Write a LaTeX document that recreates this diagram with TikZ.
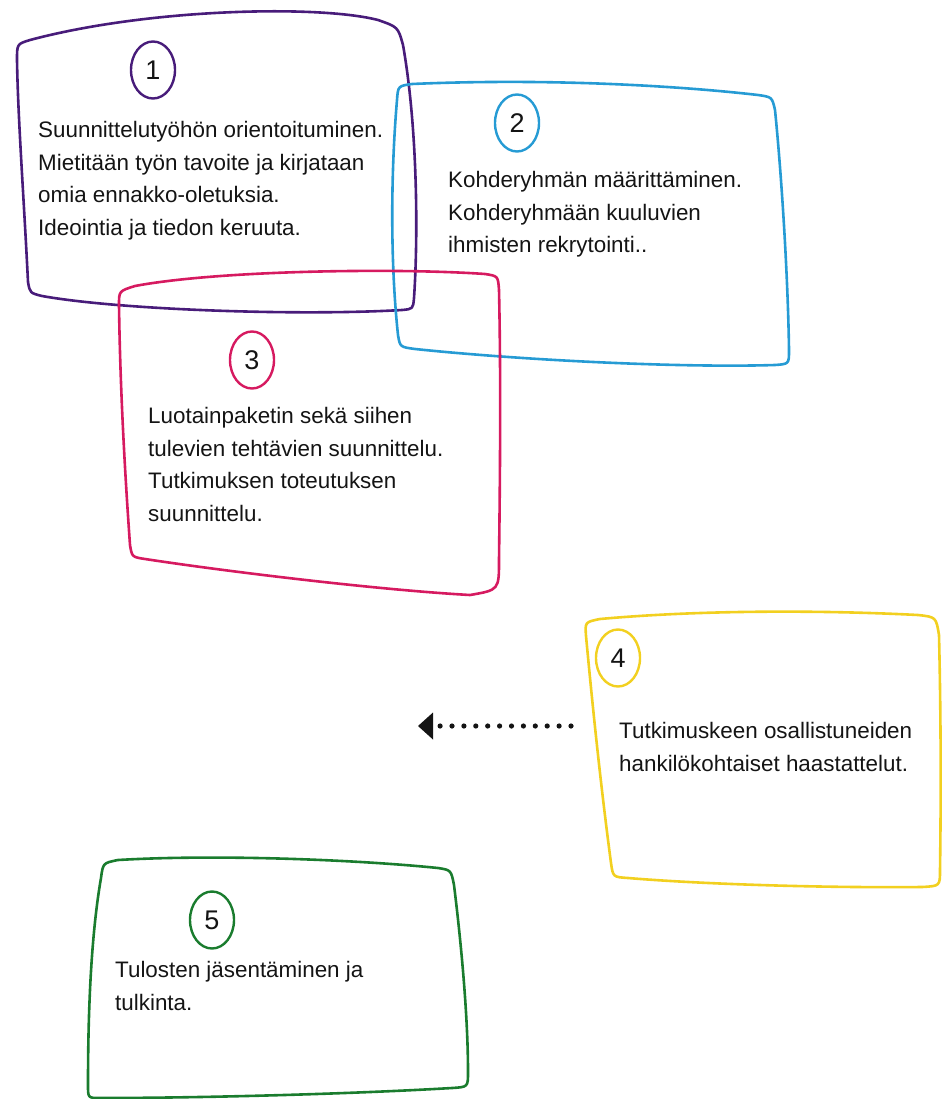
\documentclass[tikz,border=0pt]{standalone}
\usepackage{fontspec}
\setmainfont{Liberation Sans}
\usetikzlibrary{shapes.geometric,arrows.meta}
\definecolor{phaseone}{RGB}{72,28,122}
\definecolor{phasetwo}{RGB}{38,155,212}
\definecolor{phasethree}{RGB}{214,26,96}
\definecolor{phasefour}{RGB}{242,208,32}
\definecolor{phasefive}{RGB}{26,124,46}
\definecolor{inktext}{RGB}{20,20,20}
\begin{document}
\begin{tikzpicture}[x=1pt,y=-1pt,
				box/.style={line width=2.6pt,line join=round},
				num/.style={ellipse,draw,line width=2.4pt,minimum width=44pt,minimum height=57pt,inner sep=0pt,text=inktext,font=\fontsize{27}{27}\selectfont},
				txt/.style={anchor=north west,inner sep=0pt,align=left,text=inktext,font=\fontsize{22.4}{32.7}\selectfont},
				dotline/.style={inktext,line width=5.2pt,line cap=round,dash pattern=on 0pt off 11.9pt,-{Triangle[length=15pt,width=27pt,line width=0pt]}}]
\useasboundingbox (0,0) rectangle (942,1099);
% phase boxes
\draw[box,phaseone] (17,60) .. controls (17,44) .. (30,40)
	.. controls (150,8) and (320,5) .. (378,20) .. controls (398,27) .. (403,45)
	.. controls (418,130) and (418,240) .. (414,298) .. controls (413,309) .. (402,310)
	.. controls (300,316) and (120,310) .. (42,296) .. controls (30,293) .. (28,282)
	.. controls (24,200) and (18,120) .. (17,60) -- cycle;
\draw[box,phasetwo] (397,100) .. controls (398,86) .. (412,84)
	.. controls (550,78) and (680,86) .. (758,95) .. controls (772,97) .. (775,110)
	.. controls (782,180) and (788,280) .. (789,350) .. controls (789,364) .. (775,365)
	.. controls (680,368) and (520,360) .. (415,349) .. controls (400,347) .. (398,335)
	.. controls (390,260) and (391,170) .. (397,100) -- cycle;
\draw[box,phasethree] (119,305) .. controls (119,291) .. (135,286)
	.. controls (220,270) and (400,268) .. (485,274) .. controls (498,276) .. (499,290)
	.. controls (501,380) and (500,480) .. (499,560) .. controls (499,590) .. (470,595)
	.. controls (380,590) and (230,572) .. (145,559) .. controls (132,557) .. (130,545)
	.. controls (124,460) and (120,380) .. (119,305) -- cycle;
\draw[box,phasefour] (586,636) .. controls (585,622) .. (600,619)
	.. controls (700,610) and (820,610) .. (918,615) .. controls (936,617) .. (939,635)
	.. controls (941,720) and (941,800) .. (940,870) .. controls (940,886) .. (922,887)
	.. controls (820,888) and (700,884) .. (628,878) .. controls (613,877) .. (611,863)
	.. controls (600,780) and (592,700) .. (586,636) -- cycle;
\draw[box,phasefive] (101,878) .. controls (103,863) .. (118,860)
	.. controls (220,854) and (360,860) .. (438,868) .. controls (451,870) .. (454,885)
	.. controls (462,950) and (468,1020) .. (468,1072) .. controls (468,1087) .. (452,1088)
	.. controls (350,1094) and (200,1098) .. (100,1098) .. controls (88,1098) .. (88,1085)
	.. controls (88,1000) and (92,930) .. (101,878) -- cycle;
% numbers
\node[num,draw=phaseone] (n1) at (153,70) {1};
\node[num,draw=phasetwo] (n2) at (517,123) {2};
\node[num,draw=phasethree] (n3) at (252,360) {3};
\node[num,draw=phasefour] (n4) at (618,658) {4};
\node[num,draw=phasefive] (n5) at (212,920) {5};
% texts
\node[txt] (t1) at (38,121) {Suunnittelutyöhön orientoituminen.\\Mietitään työn tavoite ja kirjataan\\omia ennakko-oletuksia.\\Ideointia ja tiedon keruuta.};
\node[txt] (t2) at (448,171) {Kohderyhmän määrittäminen.\\Kohderyhmään kuuluvien\\ihmisten rekrytointi..};
\node[txt] (t3) at (148,407) {Luotainpaketin sekä siihen\\tulevien tehtävien suunnittelu.\\Tutkimuksen toteutuksen\\suunnittelu.};
\node[txt] (t4) at (619,722) {Tutkimuskeen osallistuneiden\\hankilökohtaiset haastattelut.};
\node[txt] (t5) at (115,961) {Tulosten jäsentäminen ja\\tulkinta.};
% dotted arrow
\coordinate (dotstart) at (571,726);
\coordinate (dotend) at (418,726);
\draw[dotline] (dotstart) -- (dotend);
\end{tikzpicture}
\end{document}
